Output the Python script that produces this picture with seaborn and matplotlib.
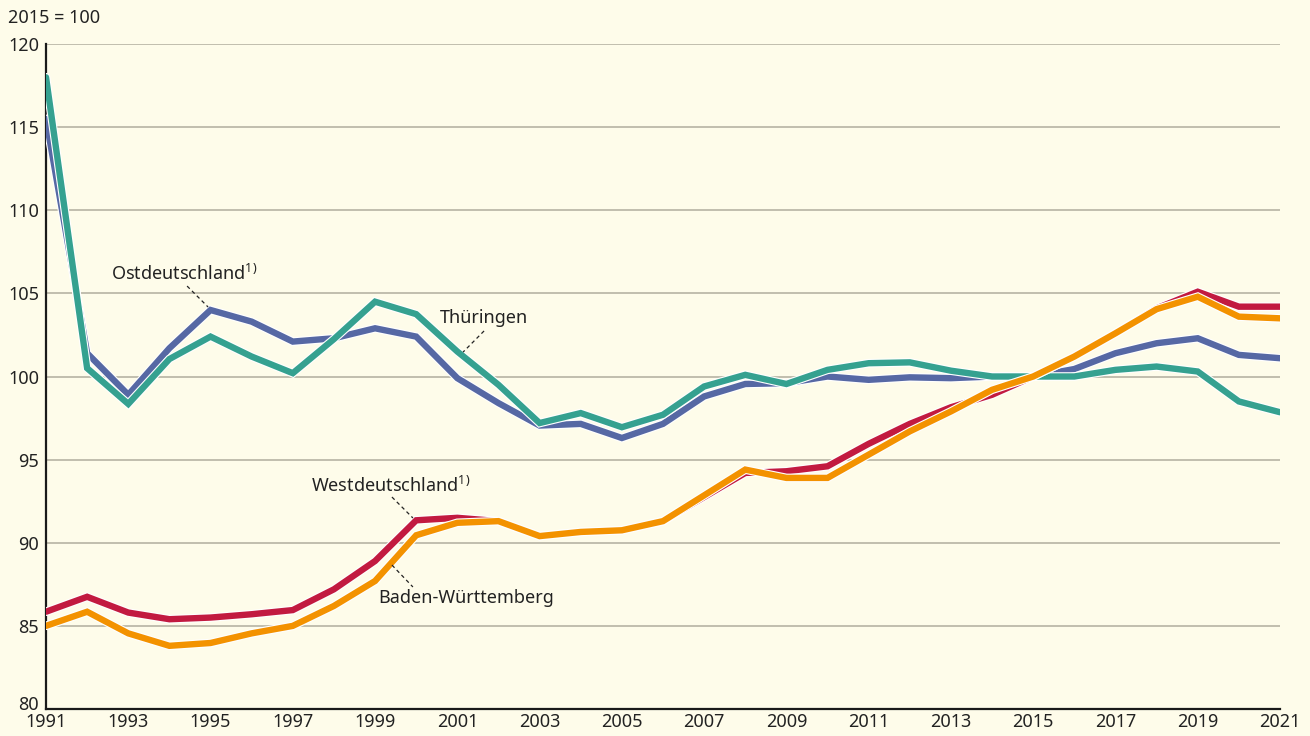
import pandas as pd
import matplotlib.pyplot as plt
import matplotlib.patheffects as pe
from matplotlib.ticker import MultipleLocator, FuncFormatter
import seaborn as sns

# ------------------------
# Data (2015 = 100)
# ------------------------
years = list(range(1991, 2022))

ostdeutschland = [115.5, 101.4, 98.9, 101.7, 104.0, 103.3, 102.1, 102.3, 102.9, 102.4,
                  99.9, 98.4, 97.05, 97.15, 96.3, 97.15, 98.8, 99.55, 99.6, 100.0,
                  99.8, 99.95, 99.9, 100.0, 100.0, 100.45, 101.4, 102.0, 102.3, 101.3, 101.1]

thueringen = [118.0, 100.5, 98.35, 101.05, 102.4, 101.2, 100.2, 102.25, 104.5, 103.75,
              101.5, 99.5, 97.2, 97.8, 96.95, 97.7, 99.4, 100.1, 99.55, 100.4,
              100.8, 100.85, 100.35, 100.0, 100.0, 100.0, 100.4, 100.6, 100.3, 98.5, 97.85]

westdeutschland = [85.85, 86.75, 85.8, 85.4, 85.5, 85.7, 85.95, 87.2, 88.9, 91.35,
                   91.5, 91.3, 90.4, 90.65, 90.75, 91.3, 92.75, 94.2, 94.3, 94.6,
                   95.95, 97.15, 98.15, 98.9, 100.0, 101.2, 102.6, 104.1, 105.1, 104.2, 104.2]

baden_wuerttemberg = [85.0, 85.85, 84.55, 83.8, 83.97, 84.55, 85.0, 86.2, 87.7, 90.45,
                      91.2, 91.3, 90.4, 90.65, 90.75, 91.3, 92.85, 94.4, 93.9, 93.9,
                      95.3, 96.7, 97.9, 99.2, 100.0, 101.2, 102.6, 104.05, 104.8, 103.6, 103.5]

series_names = ['Ostdeutschland', 'Thüringen', 'Westdeutschland', 'Baden-Württemberg']
series_colors = ['#5668a4', '#35a190', '#c21a40', '#f39200']

df = pd.DataFrame({
    'year': years * 4,
    'value': ostdeutschland + thueringen + westdeutschland + baden_wuerttemberg,
    'region': [n for n in series_names for _ in years],
})

# ------------------------
# Plot
# ------------------------
bg = '#fefcea'
sns.set_style('white')
plt.rcParams['font.family'] = ['Noto Sans', 'DejaVu Sans']
plt.rcParams['mathtext.default'] = 'regular'
text_color = '#222222'
fs = 13
y_min, y_max = 80, 120

fig = plt.figure(figsize=(13.1, 7.36), dpi=100, facecolor=bg)
ax = fig.add_axes([46 / 1310, 1 - 709 / 736, (1280 - 46) / 1310, (709 - 44) / 736])
ax.set_facecolor(bg)

sns.lineplot(
    data=df, x='year', y='value', hue='region',
    hue_order=series_names, palette=series_colors,
    linewidth=4.6, legend=False, ax=ax,
)
for line in ax.get_lines():
    line.set_solid_joinstyle('miter')
    line.set_path_effects([pe.Stroke(linewidth=6.2, foreground='white'), pe.Normal()])
    line.set_zorder(3)

ax.set_xlim(1991, 2021)
ax.set_ylim(y_min, y_max)
ax.set_xlabel('')
ax.set_ylabel('')

# grid + axes
ax.yaxis.set_major_locator(MultipleLocator(5))
# bottom label is drawn separately, nudged up so it clears "1991"
ax.yaxis.set_major_formatter(FuncFormatter(lambda v, p: '' if v <= y_min else f'{v:.0f}'))
ax.xaxis.set_major_locator(MultipleLocator(2, offset=1))
ax.xaxis.set_minor_locator(MultipleLocator(1))
ax.grid(axis='y', color='#b6b3a4', linewidth=1.2, zorder=0)
ax.set_axisbelow(True)
for side in ['top', 'right']:
    ax.spines[side].set_visible(False)
for side in ['left', 'bottom']:
    ax.spines[side].set_color('#1a1a1a')
    ax.spines[side].set_linewidth(1.6)
ax.tick_params(axis='both', which='both', direction='in', length=8, width=1.4,
               color='#1a1a1a', labelsize=fs, labelcolor=text_color)
ax.tick_params(axis='y', pad=5)
ax.tick_params(axis='x', pad=3)

ax.annotate(f'{y_min}', xy=(0, y_min), xycoords=('axes fraction', 'data'),
            xytext=(-5, 3), textcoords='offset points',
            ha='right', va='center', fontsize=fs, color=text_color)

fig.text(8 / 1310, 1 - 18 / 736, '2015 = 100', fontsize=fs, color=text_color,
         ha='left', va='center')

# ------------------------
# Labels with dashed leaders
# ------------------------
labels = [
    ('Ostdeutschland$^{1)}$', 1992.58, 105.80, (1994.43, 105.44), (1994.94, 104.18)),
    ('Thüringen', 2000.58, 103.22, (2001.65, 102.74), (2001.14, 101.47)),
    ('Westdeutschland$^{1)}$', 1997.44, 93.05, (1999.41, 92.75), (1999.92, 91.49)),
    ('Baden-Württemberg', 1999.07, 86.38, (1999.41, 88.66), (1999.92, 87.34)),
]
for text, tx, ty, p0, p1 in labels:
    ax.text(tx, ty, text, fontsize=fs, color=text_color, ha='left', va='baseline', zorder=5)
    ax.plot([p0[0], p1[0]], [p0[1], p1[1]], color='#222222', linewidth=0.9,
            linestyle=(0, (3, 2.5)), zorder=4)

plt.savefig('out.png', dpi=100, facecolor=bg)
